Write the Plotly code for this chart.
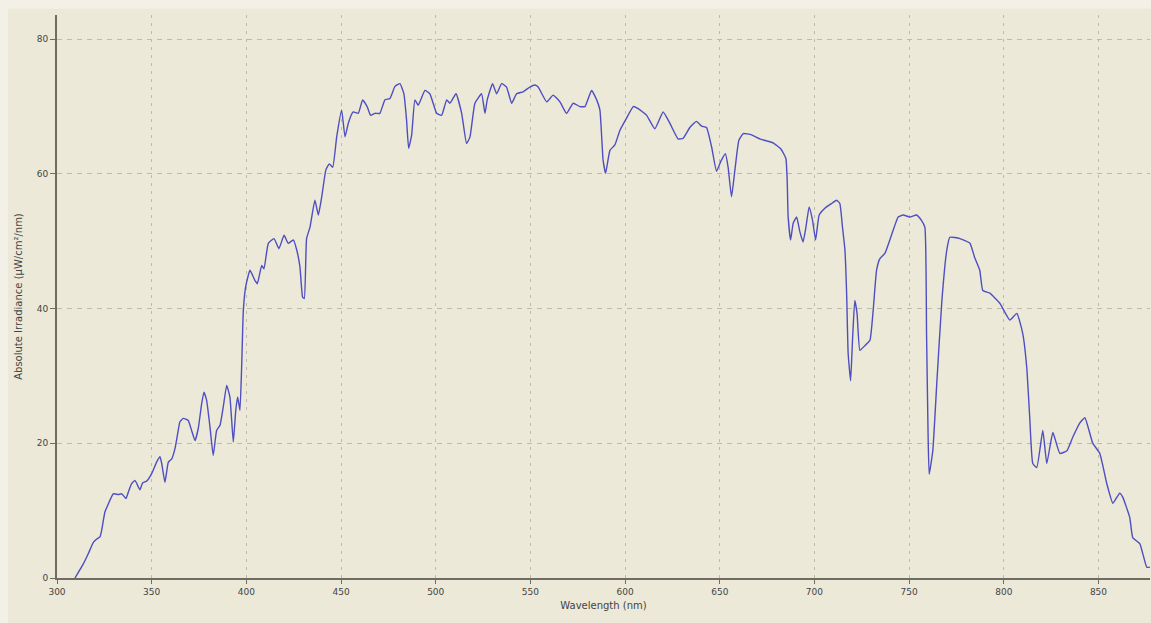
import plotly.graph_objects as go

wavelength_nm = [
    309.5, 313.9, 316.5, 319.2, 321.0, 322.7, 323.6, 325.3, 327.1, 329.7,
    332.4, 334.2, 336.4, 337.6, 339.4, 341.2, 343.8, 345.2, 347.4, 350.0,
    352.6, 354.4, 355.3, 357.0, 358.8, 360.6, 362.3, 364.0, 364.9, 366.7,
    369.3, 371.1, 372.9, 374.6, 376.4, 377.6, 379.0, 380.8, 382.5, 384.3,
    386.1, 387.8, 389.6, 391.3, 393.1, 394.4, 395.4, 396.6, 397.5, 398.4,
    399.6, 401.9, 404.5, 405.8, 408.1, 409.3, 411.6, 414.6, 417.2, 419.9,
    422.1, 424.8, 426.6, 428.3, 429.7, 430.6, 431.8, 433.6, 436.2, 438.0,
    439.8, 442.0, 443.8, 445.6, 447.7, 450.3, 452.1, 453.8, 456.4, 459.1,
    461.4, 463.8, 465.6, 467.9, 470.5, 473.2, 475.8, 478.5, 481.1, 483.2,
    484.6, 485.7, 487.3, 489.0, 490.8, 494.3, 496.9, 500.5, 503.1, 505.8,
    507.5, 510.7, 513.7, 516.3, 518.1, 520.7, 524.2, 526.0, 527.2, 530.0,
    532.2, 534.8, 537.4, 540.1, 542.7, 546.2, 549.7, 552.4, 554.1, 558.6,
    562.0, 565.6, 569.1, 572.6, 576.1, 578.8, 582.3, 585.0, 586.7, 588.4,
    589.7, 592.0, 594.6, 597.3, 600.8, 604.3, 606.9, 611.4, 615.7, 620.1,
    623.7, 628.0, 630.7, 634.2, 637.7, 640.4, 643.0, 645.7, 648.3, 650.6,
    653.0, 654.4, 656.2, 658.0, 660.1, 662.4, 666.8, 671.2, 674.7, 678.2,
    682.3, 684.9, 685.6, 686.1, 687.4, 688.8, 690.6, 692.3, 694.0, 695.5,
    697.2, 699.0, 700.6, 702.5, 705.5, 709.0, 711.7, 713.4, 714.8, 716.1,
    717.0, 717.8, 719.1, 720.1, 721.3, 722.5, 724.0, 726.6, 729.3, 731.0,
    732.8, 734.5, 737.2, 739.8, 742.5, 744.2, 746.8, 750.4, 753.9, 756.5,
    758.3, 759.2, 760.0, 760.6, 762.5, 764.6, 767.3, 769.9, 771.5, 776.8,
    782.1, 784.7, 787.3, 788.9, 792.6, 797.9, 803.2, 806.9, 810.0, 812.1,
    813.7, 815.3, 817.4, 820.6, 822.7, 825.9, 829.6, 833.3, 836.4, 840.1,
    842.8, 847.0, 850.7, 854.4, 857.6, 861.2, 862.8, 866.5, 868.1, 871.8,
    873.4, 875.5, 877.1,
]

irradiance = [
    0.0, 2.1, 3.6, 5.3, 5.8, 6.1, 7.1, 9.8, 11.0, 12.5,
    12.4, 12.5, 11.8, 12.7, 14.0, 14.5, 13.1, 14.1, 14.4, 15.5,
    17.2, 18.0, 17.0, 14.2, 17.2, 17.7, 19.2, 21.9, 23.2, 23.7,
    23.4, 21.9, 20.4, 22.2, 25.9, 27.6, 26.4, 22.4, 18.2, 21.9,
    22.7, 25.4, 28.6, 26.9, 20.2, 24.9, 26.9, 24.9, 31.3, 39.7,
    43.2, 45.7, 44.2, 43.7, 46.4, 45.9, 49.7, 50.4, 48.9, 50.9,
    49.7, 50.2, 48.7, 46.2, 41.7, 41.5, 50.4, 52.1, 56.1, 53.9,
    56.6, 60.6, 61.5, 61.0, 65.5, 69.5, 65.5, 67.5, 69.2, 69.0,
    71.0, 70.0, 68.7, 69.0, 69.0, 71.0, 71.2, 73.0, 73.4, 71.9,
    68.0, 63.8, 65.8, 71.0, 70.2, 72.4, 71.9, 69.0, 68.7, 71.0,
    70.5, 71.9, 69.0, 64.5, 65.5, 70.5, 71.9, 69.0, 71.0, 73.4,
    71.9, 73.4, 72.9, 70.5, 71.9, 72.2, 72.9, 73.2, 72.9, 70.7,
    71.7, 70.7, 69.0, 70.5, 70.0, 70.0, 72.4, 71.0, 69.5, 62.0,
    60.1, 63.5, 64.3, 66.5, 68.3, 70.0, 69.7, 68.7, 66.7, 69.2,
    67.5, 65.2, 65.3, 66.9, 67.8, 67.1, 66.9, 64.0, 60.4, 61.9,
    63.0, 61.0, 56.6, 60.6, 65.0, 66.0, 65.8, 65.2, 64.9, 64.6,
    63.7, 62.3, 59.1, 53.7, 50.2, 52.7, 53.6, 51.4, 49.9, 52.1,
    55.1, 53.1, 50.2, 53.9, 54.9, 55.6, 56.1, 55.6, 52.1, 48.7,
    42.2, 33.3, 29.3, 35.3, 41.2, 39.3, 33.8, 34.5, 35.3, 39.7,
    45.7, 47.4, 48.2, 50.2, 52.4, 53.6, 53.9, 53.6, 53.9, 53.1,
    52.1, 36.3, 21.4, 15.4, 18.9, 28.9, 41.2, 48.7, 50.6, 50.4,
    49.7, 47.5, 45.7, 42.7, 42.3, 40.8, 38.3, 39.3, 36.3, 31.3,
    23.8, 17.0, 16.4, 21.9, 17.0, 21.6, 18.5, 18.9, 20.9, 23.0,
    23.8, 20.0, 18.5, 14.0, 11.1, 12.6, 12.0, 9.0, 6.0, 5.1,
    3.6, 1.6, 1.6,
]

x_ticks = [300, 350, 400, 450, 500, 550, 600, 650, 700, 750, 800, 850]
y_ticks = [0, 20, 40, 60, 80]

BG = "#ECE9D8"
GRID = "#bdbaa9"
AXIS = "#6f6d62"
TXT = "#444444"
FONT = "DejaVu Sans, Liberation Sans, sans-serif"

fig = go.Figure()
fig.add_trace(go.Scatter(
    x=wavelength_nm, y=irradiance, mode="lines",
    line=dict(color="#4e4ec2", width=1.4, shape="spline", smoothing=0.4),
    hoverinfo="x+y", showlegend=False,
))

fig.update_layout(
    width=1151, height=623,
    margin=dict(l=57, r=1, t=15, b=45),
    paper_bgcolor="#F2F0E7",
    plot_bgcolor=BG,
    font=dict(family=FONT, size=9, color=TXT),
    shapes=[dict(type="rect", xref="paper", yref="paper",
                 x0=-0.0448, x1=1.01, y0=-0.09, y1=1.011,
                 fillcolor=BG, line=dict(width=0), layer="below")],
    xaxis=dict(
        range=[300, 877.2], tickvals=x_ticks, ticktext=[str(v) for v in x_ticks],
        showgrid=True, gridcolor=GRID, griddash="3px,5px", gridwidth=1,
        showline=True, linecolor=AXIS, linewidth=2, mirror=False,
        ticks="outside", ticklen=4, tickcolor=AXIS, tickwidth=1,
        zeroline=False,
        title=dict(text="Wavelength (nm)", font=dict(size=10, color=TXT), standoff=6),
    ),
    yaxis=dict(
        range=[0, 83.6], tickvals=y_ticks, ticktext=[str(v) for v in y_ticks],
        showgrid=True, gridcolor=GRID, griddash="5px,5px", gridwidth=1,
        showline=True, linecolor=AXIS, linewidth=2,
        ticks="outside", ticklen=5, tickcolor=AXIS, tickwidth=1,
        zeroline=False,
        title=dict(text="Absolute Irradiance (µW/cm²/nm)", font=dict(size=10, color=TXT), standoff=12),
    ),
)

fig.write_html("out.html")
